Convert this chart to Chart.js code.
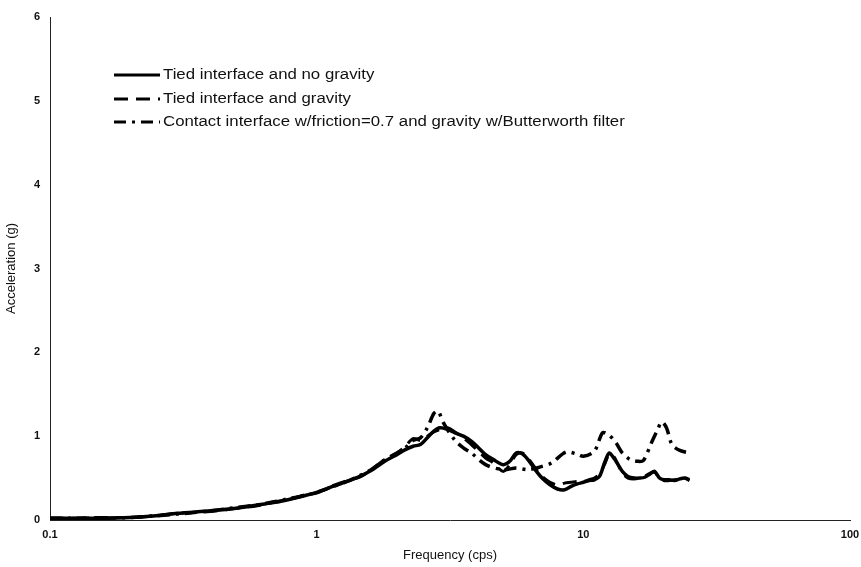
<!DOCTYPE html>
<html>
<head>
<meta charset="utf-8">
<script src="https://cdn.jsdelivr.net/npm/chart.js@4"></script>
<style>
  html, body { margin: 0; padding: 0; background: #fff; }
  #wrap { width: 861px; height: 567px; }
</style>
</head>
<body>
<div id="wrap"><canvas id="accChart"></canvas></div>
<script>
// frequency (cps) and acceleration (g)
const freqTied = [0.1, 0.12, 0.15, 0.2, 0.25, 0.3, 0.4, 0.5, 0.6, 0.7, 0.8, 0.9, 1.0, 1.15, 1.3, 1.45, 1.6, 1.8, 2.0, 2.15, 2.3, 2.45, 2.6, 2.75, 2.9, 3.1, 3.3, 3.55, 3.8, 4.05, 4.3, 4.6, 5.0, 5.3, 5.6, 5.9, 6.2, 6.6, 7.0, 7.5, 8.0, 8.5, 9.0, 9.5, 10, 10.5, 11, 11.5, 12, 12.5, 13, 13.5, 14, 14.7, 15.5, 16.3, 17, 17.8, 18.5, 19.3, 20, 21, 22, 23, 24, 25];
const accNoGravity = [0.02, 0.02, 0.02, 0.03, 0.05, 0.08, 0.11, 0.14, 0.18, 0.21, 0.25, 0.29, 0.33, 0.4, 0.46, 0.52, 0.59, 0.7, 0.78, 0.84, 0.88, 0.9, 0.98, 1.06, 1.1, 1.08, 1.04, 1.0, 0.94, 0.86, 0.78, 0.72, 0.66, 0.7, 0.8, 0.79, 0.72, 0.6, 0.5, 0.42, 0.37, 0.36, 0.4, 0.43, 0.45, 0.47, 0.48, 0.52, 0.68, 0.8, 0.74, 0.66, 0.58, 0.52, 0.5, 0.5, 0.51, 0.55, 0.58, 0.5, 0.48, 0.48, 0.47, 0.49, 0.5, 0.48];
const accGravity = [0.02, 0.02, 0.03, 0.03, 0.05, 0.08, 0.1, 0.14, 0.17, 0.22, 0.25, 0.3, 0.32, 0.41, 0.47, 0.51, 0.6, 0.72, 0.8, 0.88, 0.97, 0.95, 1.0, 1.05, 1.08, 1.1, 1.05, 0.98, 0.9, 0.82, 0.74, 0.68, 0.58, 0.66, 0.78, 0.8, 0.74, 0.62, 0.52, 0.45, 0.42, 0.44, 0.45, 0.46, 0.46, 0.48, 0.5, 0.55, 0.66, 0.78, 0.76, 0.66, 0.56, 0.5, 0.49, 0.5, 0.52, 0.56, 0.57, 0.5, 0.47, 0.47, 0.48, 0.5, 0.5, 0.47];

const freqContact = [0.1, 0.12, 0.15, 0.2, 0.25, 0.3, 0.4, 0.5, 0.6, 0.7, 0.8, 0.9, 1.0, 1.15, 1.3, 1.45, 1.6, 1.8, 2.0, 2.15, 2.3, 2.45, 2.6, 2.75, 2.85, 3.0, 3.3, 3.55, 3.8, 4.3, 5.0, 5.6, 6.2, 7.0, 7.6, 8.6, 9.4, 10, 11, 11.8, 12.4, 13.2, 14, 15, 16, 16.8, 18, 19, 19.7, 20.5, 21.5, 23, 25];
const accContact = [0.02, 0.02, 0.02, 0.03, 0.05, 0.07, 0.11, 0.15, 0.18, 0.22, 0.26, 0.29, 0.33, 0.4, 0.46, 0.53, 0.6, 0.72, 0.8, 0.86, 0.95, 0.98, 1.1, 1.27, 1.3, 1.15, 0.95, 0.86, 0.8, 0.66, 0.6, 0.62, 0.6, 0.64, 0.68, 0.81, 0.79, 0.76, 0.82, 1.04, 1.02, 0.93, 0.8, 0.72, 0.7, 0.71, 0.92, 1.08, 1.17, 1.1, 0.9, 0.83, 0.8];

const seriesLabels = ['Tied interface and no gravity', 'Tied interface and gravity', 'Contact interface w/friction=0.7 and gravity w/Butterworth filter'];
const xTickValues = [0.1, 1, 10, 100];
const xTickLabels = ['0.1', '1', '10', '100'];
const yTickValues = [0, 1, 2, 3, 4, 5, 6];

function toPoints(xs, ys) {
    return xs.map((x, i) => ({ x: x, y: ys[i] }));
}

// legend drawn inside the plot, with each line style
const innerLegend = {
    id: 'innerLegend',
    afterDraw(chart) {
        const ctx = chart.ctx;
        const rows = [75, 99, 122];
        ctx.save();
        ctx.font = '14px "Liberation Sans", Arial, sans-serif';
        ctx.fillStyle = '#111';
        ctx.textBaseline = 'middle';
        chart.data.datasets.forEach((ds, i) => {
            const y = rows[i];
            ctx.strokeStyle = '#000';
            ctx.lineWidth = 3;
            ctx.setLineDash(ds.borderDash || []);
            ctx.beginPath();
            ctx.moveTo(114, y);
            ctx.lineTo(160, y);
            ctx.stroke();
            ctx.setLineDash([]);
            // the original text is a little wider than the font
            ctx.save();
            ctx.translate(163, y);
            ctx.scale(1.2, 1);
            ctx.fillText(ds.label, 0, 0);
            ctx.restore();
        });
        ctx.restore();
    }
};

const ctx = document.getElementById('accChart').getContext('2d');
new Chart(ctx, {
    type: 'line',
    data: {
        datasets: [{
            label: seriesLabels[0],
            data: toPoints(freqTied, accNoGravity),
            borderColor: '#000',
            borderWidth: 3.5,
            pointRadius: 0,
            tension: 0.3
        }, {
            label: seriesLabels[1],
            data: toPoints(freqTied, accGravity),
            borderColor: '#000',
            borderWidth: 3,
            borderDash: [14, 8],
            pointRadius: 0,
            tension: 0.3
        }, {
            label: seriesLabels[2],
            data: toPoints(freqContact, accContact),
            borderColor: '#000',
            borderWidth: 3.5,
            borderDash: [12, 6, 3, 6],
            pointRadius: 0,
            tension: 0.3
        }]
    },
    options: {
        responsive: true,
        maintainAspectRatio: false,
        animation: false,
        layout: { padding: { left: 0, right: 0, top: 17, bottom: 0 } },
        plugins: {
            legend: { display: false },
            tooltip: { enabled: false }
        },
        scales: {
            x: {
                type: 'logarithmic',
                min: 0.1,
                max: 100,
                afterBuildTicks: s => { s.ticks = xTickValues.map(v => ({ value: v })); },
                afterFit: s => { s.height = 47; s.paddingRight = 11; },
                grid: { display: false, drawTicks: false },
                border: { display: true, color: '#222', width: 1 },
                ticks: {
                    autoSkip: false,
                    maxRotation: 0,
                    padding: 8,
                    color: '#111',
                    font: { family: '"Liberation Sans", Arial, sans-serif', size: 11, weight: 'bold' },
                    callback: (v, i) => xTickLabels[i]
                },
                title: {
                    display: true,
                    text: 'Frequency (cps)',
                    color: '#111',
                    padding: { top: 0 },
                    font: { family: '"Liberation Sans", Arial, sans-serif', size: 13 }
                }
            },
            y: {
                min: 0,
                max: 6,
                afterBuildTicks: s => { s.ticks = yTickValues.map(v => ({ value: v })); },
                afterFit: s => { s.width = 50; },
                grid: { display: false, drawOnChartArea: false, drawTicks: true, tickLength: 4, color: '#000' },
                border: { display: true, color: '#222', width: 1, dash: [2, 3] },
                ticks: {
                    padding: 6,
                    color: '#111',
                    font: { family: '"Liberation Sans", Arial, sans-serif', size: 11, weight: 'bold' }
                },
                title: {
                    display: true,
                    text: 'Acceleration (g)',
                    color: '#111',
                    padding: { bottom: 2 },
                    font: { family: '"Liberation Sans", Arial, sans-serif', size: 13 }
                }
            }
        }
    },
    plugins: [innerLegend]
});
</script>
</body>
</html>
